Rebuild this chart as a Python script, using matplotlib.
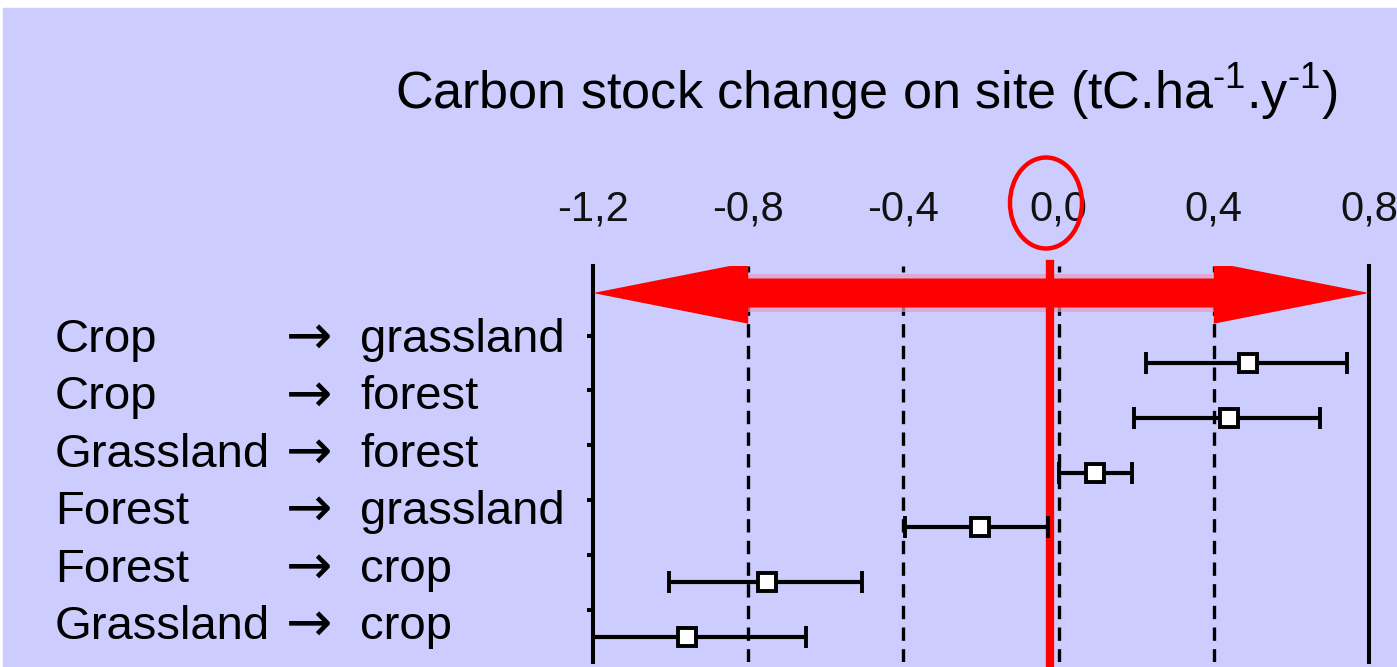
import matplotlib
matplotlib.use("Agg")
import matplotlib.pyplot as plt
from matplotlib.patches import Rectangle, Ellipse

plt.rcParams["font.family"] = ["Liberation Sans", "DejaVu Sans"]
plt.rcParams["mathtext.fontset"] = "custom"
plt.rcParams["mathtext.rm"] = "Liberation Sans"

# -------------------------------------------------------------------
# Data
# -------------------------------------------------------------------
from_use = ["Crop", "Crop", "Grassland", "Forest", "Forest", "Grassland"]
to_use = ["grassland", "forest", "forest", "grassland", "crop", "crop"]
mean_change = [0.488, 0.439, 0.094, -0.203, -0.752, -0.957]
low_change = [0.226, 0.195, 0.0, -0.396, -1.004, -1.2]
high_change = [0.743, 0.674, 0.19, -0.027, -0.507, -0.652]

x_ticks = [-1.2, -0.8, -0.4, 0.0, 0.4, 0.8]
title = "Carbon stock change on site (tC.ha$^{\\text{-1}}$.y$^{\\text{-1}}$)"

BG = "#CCCCFF"
W, H = 1397, 667


def fx(x):
    return x / W


def fy(y):
    return 1 - y / H


fig = plt.figure(figsize=(W / 100, H / 100), dpi=100)
fig.patch.set_facecolor("white")
fig.patches.append(Rectangle((fx(3), 0), 1, fy(8), transform=fig.transFigure,
                             color=BG, zorder=-10))

ax = fig.add_axes([fx(593), fy(662), fx(1369) - fx(593), fy(266) - fy(662)])
ax.set_facecolor("none")

rows = list(range(len(from_use)))
ax.set_xlim(-1.2, 0.8)
ax.set_ylim(5.456, -1.77)

# spines
for s in ("top", "bottom"):
    ax.spines[s].set_visible(False)
for s in ("left", "right"):
    ax.spines[s].set_linewidth(2.9)

# ticks
ax.xaxis.tick_top()
ax.set_xticks(x_ticks)
ax.set_xticklabels([f"{t:.1f}".replace(".", ",") for t in x_ticks],
                   fontsize=30, color="#111111")
ax.tick_params(axis="x", length=0, pad=26)
ax.set_yticks([r - 0.5 for r in rows])
ax.set_yticklabels([])
ax.tick_params(axis="y", direction="out", length=4, width=2.9, left=True, right=False)

# dashed grid lines
for x in x_ticks[1:-1]:
    ax.axvline(x, color="black", lw=2.4, ls=(0, (4, 2.5)), zorder=1)

# red double arrow across the top
x0, x1, hl = -1.2, 0.8, 0.4
ya, sh, hh = -1.277, 0.265, 0.56
glow = 0.34
ax.fill([x0 + hl, x1 - hl, x1 - hl, x0 + hl],
        [ya - glow, ya - glow, ya + glow, ya + glow],
        color="#E79BC4", alpha=0.7, lw=0, zorder=2)
ax.fill([x0, x0 + hl, x0 + hl, x1 - hl, x1 - hl, x1, x1 - hl, x1 - hl, x0 + hl, x0 + hl],
        [ya, ya - hh, ya - sh, ya - sh, ya - hh, ya, ya + hh, ya + sh, ya + sh, ya + hh],
        color="red", lw=0, zorder=3)

# zero reference line
ax.axvline(-0.022, ymin=-0.02, ymax=1.005, color="red", lw=6, zorder=4, clip_on=False)

# error bars
ax.errorbar(mean_change, rows,
            xerr=[[m - l for m, l in zip(mean_change, low_change)],
                  [h - m for m, h in zip(mean_change, high_change)]],
            fmt="s", color="black", mfc="white", mec="black", ms=13, mew=2.8,
            elinewidth=3, capsize=8, capthick=3, zorder=5)

# row labels
for i, (a, b) in enumerate(zip(from_use, to_use)):
    y = fy(352 + 57.4 * i)
    fig.text(fx(55), y, a, fontsize=34, va="baseline", ha="left")
    fig.text(fx(286), y - 2 / H, "\u2192", fontsize=40, va="baseline", ha="left",
             family=["DejaVu Sans"])
    fig.text(fx(360), y, b, fontsize=34, va="baseline", ha="left")

# title
fig.text(fx(866), fy(109), title, fontsize=37.5, ha="center", va="baseline")

# circle round the zero tick label
fig.patches.append(Ellipse((fx(1046), fy(203)), 72 / W, 91 / H, transform=fig.transFigure,
                           fill=False, edgecolor="red", lw=3.2, zorder=10))

fig.savefig("out.png", dpi=100, facecolor=fig.get_facecolor())
